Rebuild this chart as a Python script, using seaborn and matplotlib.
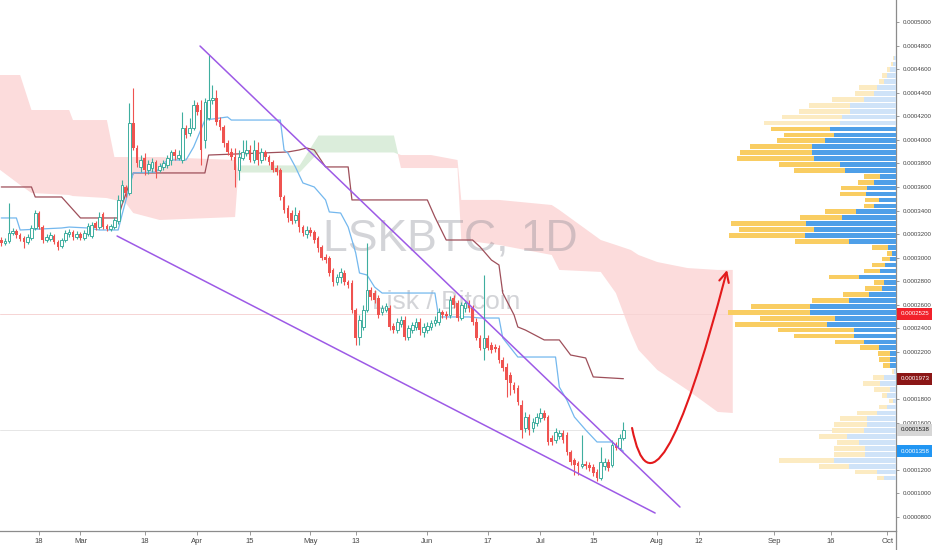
import numpy as np
import pandas as pd
import matplotlib
matplotlib.use("Agg")
import matplotlib.pyplot as plt
import matplotlib.dates as mdates
from matplotlib.path import Path
from matplotlib.patches import FancyArrowPatch
from matplotlib.lines import Line2D
import seaborn as sns

SAT = 1e-8  # all prices below are in satoshi

# ---------------- daily candles (LSK/BTC), first bar 2019-02-08 ----------------
first_day = "2019-02-08"
opens = [31500, 31250, 31420, 32100, 32260, 31930, 31670, 31330, 31670, 32520,
         33790, 32600, 31500, 31590, 31840, 31330, 30990, 31500, 32010, 32180,
         31760, 32010, 31670, 32010, 31840, 32940, 32600, 33710, 32690, 32430,
         32600, 33110, 34900, 36000, 35490, 41430, 39310, 37700, 38460, 37440,
         37610, 38120, 37440, 37700, 37870, 38290, 38970, 38460, 38290, 41010,
         40580, 41010, 42960, 42530, 39990, 41850, 43380, 43550, 41680, 41090,
         39730, 38970, 38540, 37440, 38460, 38880, 39140, 38290, 39140, 38290,
         38970, 38540, 38120, 37610, 37440, 35150, 34220, 33790, 33200, 33790,
         32600, 32010, 32350, 32180, 31670, 30910, 30060, 29970, 28960, 27940,
         28360, 28700, 27940, 27850, 25560, 23270, 24120, 25560, 27260, 27000,
         26580, 25390, 25560, 25730, 24200, 23860, 24370, 24710, 23270, 23860,
         24120, 24540, 23690, 23860, 24120, 24460, 24540, 25390, 25220, 25140,
         26580, 26160, 24880, 25730, 26160, 25730, 24540, 23190, 22340, 23190,
         22590, 22420, 22340, 21320, 20720, 20040, 19200, 18940, 17500, 15550,
         16480, 15550, 15970, 16400, 16820, 16480, 14700, 14530, 14870, 15120,
         14950, 13510, 12830, 12580, 12320, 12490, 12410, 12240, 11810, 11300,
         12320, 12660, 12410, 14100, 13850, 14700]
closes = [31250, 31420, 32100, 32260, 31930, 31590, 31330, 31760, 32520, 33790,
          32600, 31500, 31760, 31930, 31330, 30910, 31500, 32100, 32180, 31760,
          32010, 31670, 32100, 32690, 32770, 32520, 33450, 32600, 32430, 32690,
          33200, 34900, 36170, 35490, 41430, 39310, 38040, 38290, 37440, 37950,
          38120, 37270, 37780, 38040, 38460, 38970, 38630, 38710, 41010, 40410,
          41010, 42960, 42360, 39140, 43210, 43380, 43550, 41510, 41090, 39730,
          38970, 38540, 37440, 38540, 38970, 39140, 38290, 39140, 38290, 38970,
          38540, 38120, 37440, 37270, 35150, 34050, 33370, 33110, 33620, 32600,
          32100, 32350, 32100, 31500, 30820, 29970, 29800, 28700, 27940, 28360,
          28790, 27940, 27680, 25560, 23190, 24710, 25560, 27260, 26660, 26410,
          25140, 25730, 25900, 24120, 23860, 24540, 24710, 23270, 24030, 24290,
          24540, 23860, 24120, 24200, 24460, 24710, 25390, 25140, 25050, 26410,
          25990, 24880, 25990, 26160, 25730, 24540, 23190, 22340, 23190, 22340,
          22170, 22250, 21320, 20640, 19620, 19370, 18770, 17750, 15380, 16480,
          15380, 16060, 16480, 16820, 16400, 14360, 14360, 15210, 15120, 14530,
          13510, 12660, 12410, 12320, 12490, 12320, 12150, 11730, 11300, 12660,
          12660, 12150, 14100, 13850, 14700, 15380]
highs = [31760, 31670, 34640, 32520, 32430, 32100, 31840, 32010, 32770, 34050,
         33960, 32770, 32010, 32180, 32010, 31500, 31670, 32350, 32430, 32350,
         32260, 32180, 32350, 32940, 33030, 33110, 33880, 33880, 32860, 32860,
         33450, 35320, 36590, 36170, 43130, 44400, 39560, 38710, 38880, 38290,
         38460, 38290, 38040, 38290, 38710, 39140, 39220, 39140, 42360, 41260,
         41850, 43380, 43210, 43380, 43550, 47200, 44650, 44230, 41940, 41260,
         39990, 39310, 39310, 39140, 39990, 39990, 39560, 39990, 39820, 39310,
         39140, 38710, 38290, 37870, 37610, 35320, 34470, 34050, 34300, 34050,
         32770, 32690, 32600, 32350, 31840, 31080, 30310, 30140, 29120, 28620,
         29120, 28960, 28110, 28110, 25730, 25140, 25990, 31250, 27510, 27260,
         26830, 25990, 26160, 25990, 24460, 24880, 25050, 25050, 24290, 24540,
         24880, 24880, 24460, 24540, 24710, 25050, 25730, 25560, 25480, 26750,
         26830, 26410, 26240, 26410, 26410, 25990, 24880, 23440, 28530, 23440,
         22850, 22680, 22590, 21570, 21060, 20300, 19450, 19200, 17920, 16910,
         16740, 16400, 16820, 17240, 17070, 16650, 14950, 15550, 15380, 15380,
         15210, 13680, 13000, 12750, 14950, 12750, 12660, 12490, 12070, 13940,
         13000, 12920, 14530, 14360, 15040, 16060]
lows = [30990, 31080, 31250, 31930, 31670, 31420, 30820, 31160, 31500, 32350,
        32430, 31250, 31330, 31420, 31160, 30650, 30820, 31330, 31760, 31500,
        31590, 31500, 31500, 31840, 31670, 32350, 32430, 32430, 32260, 32260,
        32430, 32860, 34640, 35150, 35320, 39140, 37700, 37270, 37020, 37100,
        37270, 36760, 37270, 37440, 37610, 37870, 38290, 38290, 38040, 40160,
        40330, 40840, 42110, 37870, 39310, 41680, 43040, 41260, 40840, 39390,
        38710, 38290, 36000, 36590, 38290, 38630, 38120, 38040, 37870, 38040,
        38290, 37870, 37270, 37020, 34900, 33790, 33030, 32860, 32940, 32180,
        31840, 31670, 31840, 31250, 30480, 29800, 29550, 28450, 27600, 27680,
        27850, 27680, 27430, 25310, 22590, 22590, 23860, 25390, 26410, 26160,
        24880, 25140, 25390, 23860, 23610, 23610, 24120, 23020, 23020, 23610,
        23860, 23440, 23270, 23610, 23860, 24200, 24290, 24880, 24800, 24880,
        25730, 24630, 24710, 25390, 25390, 24290, 23020, 22170, 21320, 22170,
        21910, 22000, 21060, 20380, 18180, 18350, 18520, 17500, 14700, 15210,
        14950, 15210, 15720, 16060, 16230, 14100, 14100, 14270, 14610, 14270,
        13260, 12410, 11560, 11560, 12150, 12070, 11900, 11470, 11050, 11130,
        11980, 11900, 12240, 13680, 13680, 14530]

# ---------------- Ichimoku lines ----------------
tenkan_dates = ["2019-02-08", "2019-02-12", "2019-02-13", "2019-02-24", "2019-02-26",
                "2019-03-03", "2019-03-06", "2019-03-11", "2019-03-12", "2019-03-15",
                "2019-03-21", "2019-03-24", "2019-03-29", "2019-03-31", "2019-04-03",
                "2019-04-09", "2019-04-10", "2019-04-23", "2019-04-24", "2019-04-25",
                "2019-04-27", "2019-04-29", "2019-05-02", "2019-05-05", "2019-05-06",
                "2019-05-09", "2019-05-11", "2019-05-13", "2019-05-14", "2019-05-16",
                "2019-05-18", "2019-05-20", "2019-06-03", "2019-06-04", "2019-06-12",
                "2019-06-15", "2019-06-20", "2019-06-21", "2019-06-25", "2019-07-05",
                "2019-07-06", "2019-07-08", "2019-07-10", "2019-07-13", "2019-07-16",
                "2019-07-20", "2019-07-23"]
tenkan_vals = [33370, 33370, 32350, 32520, 32600, 32520, 32350, 32350, 33620, 37190,
               37270, 38290, 38290, 39390, 41680, 41940, 41680, 41680, 39140, 38880,
               37700, 36340, 36000, 34900, 33880, 33790, 32600, 30400, 28700, 28530,
               27510, 27000, 27000, 24970, 24970, 24880, 24880, 23190, 21570, 21570,
               19030, 17920, 16480, 15380, 14360, 14360, 13580]
kijun_dates = ["2019-02-08", "2019-02-16", "2019-02-17", "2019-02-24", "2019-03-01",
               "2019-03-11", "2019-03-12", "2019-03-15", "2019-04-03", "2019-04-04",
               "2019-04-25", "2019-04-28", "2019-04-30", "2019-05-02", "2019-05-05",
               "2019-05-11", "2019-05-12", "2019-06-01", "2019-06-03", "2019-06-06",
               "2019-06-13", "2019-06-15", "2019-06-18", "2019-06-20", "2019-06-21",
               "2019-06-24", "2019-06-25", "2019-06-27", "2019-07-02", "2019-07-06",
               "2019-07-09", "2019-07-13", "2019-07-15", "2019-07-23"]
kijun_vals = [36000, 36000, 35150, 35150, 33370, 33370, 34470, 37190, 37190, 38710,
              38970, 39140, 39310, 39140, 37700, 37700, 34900, 34900, 33450, 31500,
              31500, 30910, 29800, 29380, 27000, 25140, 24120, 23860, 23020, 23020,
              21740, 21490, 19880, 19730]
cloud_dates = ["2019-02-07", "2019-02-13", "2019-02-16", "2019-02-26", "2019-02-27",
               "2019-03-08", "2019-03-10", "2019-03-13", "2019-03-15", "2019-03-22",
               "2019-04-11", "2019-04-12", "2019-04-28", "2019-05-03", "2019-05-23",
               "2019-05-25", "2019-06-02", "2019-06-09", "2019-06-10", "2019-06-20",
               "2019-07-04", "2019-07-06", "2019-07-17", "2019-07-21", "2019-07-25",
               "2019-07-27", "2019-08-01", "2019-08-09", "2019-08-17", "2019-08-21"]
span_a = [37610, 36170, 35490, 35320, 35230, 35060, 34900, 34640, 33790, 33200,
          33450, 37870, 37870, 40410, 40410, 37610, 37610, 37610, 31500, 31080,
          30230, 28960, 28790, 27000, 23610, 22170, 20470, 18770, 16910, 16820]
span_b = [45500, 45500, 42530, 42530, 41680, 41680, 38540, 38540, 38540, 38540,
          38290, 37270, 37270, 38970, 38970, 38710, 38710, 38290, 34900, 34900,
          34470, 34050, 31500, 31080, 30650, 30230, 29630, 29120, 28960, 28960]

# ---------------- volume profile (visible range), rows top -> bottom ----------------
vp_up = [2, 3, 5.7, 9, 12.3, 19, 22.3, 32.3, 45.7, 45.7, 54, 55.7, 65.7, 62.3, 70.7,
         84, 84, 82.3, 55.7, 50.7, 16.3, 21.7, 29, 29.7, 17.3, 21.7, 39.7, 54, 89.7,
         82.3, 90.7, 47.3, 8.3, 4, 6.3, 10.7, 16.3, 37.3, 11.7, 14, 27.3, 47.3, 85.7,
         86.3, 60.7, 69, 41.7, 41.7, 32.3, 17.3, 5.7, 5.7, 6.3, 2.3, 11.7, 15.7, 6.3,
         9, 3, 9, 19, 29, 29, 32.3, 49, 37.3, 30.7, 30.7, 62.3, 47.3, 19, 12.3]
vp_down = [1, 2, 3.3, 5, 5, 18.3, 18.3, 31.7, 41.7, 51.7, 60, 76.7, 60, 50, 48.3,
           62.3, 72.3, 77.3, 61.7, 51, 15.3, 16.7, 26, 26, 13.3, 10.7, 31, 42.3, 76,
           75, 76.7, 54.3, 15.7, 5, 7.7, 13.3, 15.3, 30, 10.7, 16.7, 25.3, 36.7, 59.3,
           82, 76, 92.7, 76.3, 60, 29.3, 18.3, 12.3, 11.7, 6.7, 1.7, 11.3, 17.3, 15.3,
           5, 4.3, 8.3, 20, 26.7, 32.7, 31.7, 28.3, 21.7, 31, 31, 55, 30, 21.7, 6.7]
value_area_high = 41200
value_area_low = 20600

# ---------------- drawings / labels ----------------
upper_line_dates = ["2019-04-01 17:00", "2019-08-07 00:00"]
upper_line_vals = [47960, 8840]
lower_line_dates = ["2019-03-10 17:00", "2019-07-31 10:00"]
lower_line_vals = [31840, 8330]
arrow_dates = ["2019-07-25 07:00", "2019-07-31 10:00", "2019-08-19 12:00"]
arrow_vals = [15550, 5620, 28950]

price_tags = [25250, 19730, 15380, 13580]
tag_colors = ["#f2212b", "#8b1616", "#d6d6d6", "#2196f3"]
tag_text_colors = ["white", "white", "#1a1a1a", "white"]

tick_dates = ["2019-02-18", "2019-03-01", "2019-03-18", "2019-04-01", "2019-04-15",
              "2019-05-01", "2019-05-13", "2019-06-01", "2019-06-17", "2019-07-01",
              "2019-07-15", "2019-08-01", "2019-08-12", "2019-09-01", "2019-09-16",
              "2019-10-01"]
tick_labels = ["18", "Mar", "18", "Apr", "15", "May", "13", "Jun", "17", "Jul",
               "15", "Aug", "12", "Sep", "16", "Oct"]
price_ticks = list(range(8000, 50001, 2000))
hidden_price_ticks = [20000, 14000]   # covered by the price tags in the screenshot

# =====================================================================
sns.set_theme(style="white")
plt.rcParams['font.family'] = ['Liberation Sans', 'DejaVu Sans']

W, H = 932, 550
fig = plt.figure(figsize=(W / 100, H / 100), dpi=100)
ax = fig.add_axes([0, 19 / H, 896 / W, 531 / H])

dates = pd.date_range(first_day, periods=len(closes), freq="D")
xd = mdates.date2num(dates)
o = np.array(opens) * SAT
c = np.array(closes) * SAT
hi = np.array(highs) * SAT
lo = np.array(lows) * SAT
up = c >= o

# cloud
cx = mdates.date2num(pd.to_datetime(cloud_dates))
sa = np.array(span_a) * SAT
sb = np.array(span_b) * SAT
ax.fill_between(cx, sa, sb, where=sa >= sb, interpolate=True, color="#dbeddb", lw=0, zorder=1)
ax.fill_between(cx, sa, sb, where=sa < sb, interpolate=True, color="#fcdcdc", lw=0, zorder=1)

# price lines
ax.axhline(price_tags[0] * SAT, color="#f6d4d4", lw=0.7, zorder=1.5)
ax.axhline(price_tags[2] * SAT, color="#e6e6e6", lw=0.7, zorder=1.5)

# watermark
ax.text(0.503, 0.55, "LSKBTC, 1D", transform=ax.transAxes, ha="center", va="center",
        fontsize=32, color="#787b86", alpha=0.32, zorder=2)
ax.text(0.498, 0.432, "Lisk / Bitcoin", transform=ax.transAxes, ha="center", va="center",
        fontsize=19, color="#787b86", alpha=0.32, zorder=2)

# ichimoku lines
sns.lineplot(x=mdates.date2num(pd.to_datetime(kijun_dates)), y=np.array(kijun_vals) * SAT,
             ax=ax, color="#9e4f5a", lw=0.9, zorder=3)
sns.lineplot(x=mdates.date2num(pd.to_datetime(tenkan_dates)), y=np.array(tenkan_vals) * SAT,
             ax=ax, color="#74b8ee", lw=0.9, zorder=3)

# candles
col_up, col_dn = "#3fae9f", "#ef5350"
ax.vlines(xd, lo, hi, colors=np.where(up, col_up, col_dn), lw=0.8, zorder=4)
body_bot = np.minimum(o, c)
body_h = np.maximum(np.abs(c - o), 60 * SAT)
ax.bar(xd[up], body_h[up], bottom=body_bot[up], width=0.7, facecolor="white",
       edgecolor=col_up, linewidth=0.7, zorder=5)
ax.bar(xd[~up], body_h[~up], bottom=body_bot[~up], width=0.7, color=col_dn,
       linewidth=0, zorder=5)

# trend lines
purple = "#9d5ae6"
ax.plot(mdates.date2num(pd.to_datetime(upper_line_dates)), np.array(upper_line_vals) * SAT,
        color=purple, lw=1.1, zorder=6)
ax.plot(mdates.date2num(pd.to_datetime(lower_line_dates)), np.array(lower_line_vals) * SAT,
        color=purple, lw=1.1, zorder=6)

# projection arrow
ap = list(zip(mdates.date2num(pd.to_datetime(arrow_dates)), np.array(arrow_vals) * SAT))
path = Path(ap, [Path.MOVETO, Path.CURVE3, Path.CURVE3])
ax.add_patch(FancyArrowPatch(path=path, arrowstyle="->,head_length=0.7,head_width=0.35",
                             mutation_scale=10, color="#e3191b", lw=1.5, zorder=7))

# axes limits
d0 = mdates.date2num(pd.Timestamp("2019-02-18"))
ax.set_xlim(d0 - 10.345, d0 + 227.3)
ax.set_ylim(6806 * SAT, 51867 * SAT)

# volume profile on twin axis
ax2 = ax.twiny()
edges = np.linspace(min(lows), max(highs), len(vp_up) + 1)[::-1]
centers = (edges[:-1] + edges[1:]) / 2
row_h = (edges[0] - edges[1]) * SAT
vu = np.array(vp_up)
vdn = np.array(vp_down)
inside = (centers <= value_area_high) & (centers >= value_area_low)
blue_c = np.where(inside, "#4e9fe8", "#cfe3f8")
orng_c = np.where(inside, "#f9cd62", "#fcebc2")
ax2.barh(centers * SAT, vu, height=row_h * 0.8, left=0, color=blue_c, lw=0)
ax2.barh(centers * SAT, vdn, height=row_h * 0.8, left=vu, color=orng_c, lw=0)
ax2.set_xlim((vu + vdn).max() / 0.1875, 0)
ax2.set_ylim(ax.get_ylim())
ax2.set_axis_off()

# axis styling
for s in ["left", "top"]:
    ax.spines[s].set_visible(False)
for s in ["right", "bottom"]:
    ax.spines[s].set_color("#8c8c8c")
    ax.spines[s].set_linewidth(0.9)
fig.add_artist(Line2D([896 / W, 896 / W], [0, 19 / H], transform=fig.transFigure,
                      color="#8c8c8c", lw=0.9))

ax.set_xticks(mdates.date2num(pd.to_datetime(tick_dates)))
ax.set_xticklabels(tick_labels)
ax.yaxis.tick_right()
ax.set_yticks(np.array(price_ticks) * SAT)
ax.set_yticklabels(["" if v in hidden_price_ticks else f"{v * SAT:.7f}" for v in price_ticks])
ax.tick_params(axis="x", bottom=True, length=3, width=0.6, color="#8c8c8c",
               labelsize=5.5, labelcolor="#454545", pad=2)
ax.tick_params(axis="y", right=True, left=False, length=2.5, width=0.6, color="#8c8c8c",
               labelsize=4.4, labelcolor="#454545", pad=2.5)
ax.grid(False)

# right-axis price tags
for v, fc, tc in zip(price_tags, tag_colors, tag_text_colors):
    ax.annotate(f"{v * SAT:.7f}", xy=(1.0, v * SAT), xycoords=ax.get_yaxis_transform(),
                xytext=(3.2, 0), textcoords="offset points", ha="left", va="center",
                fontsize=4.4, color=tc, annotation_clip=False, zorder=10,
                bbox=dict(boxstyle="square,pad=0.55", fc=fc, ec="none"))

fig.savefig("out.png", dpi=100)
